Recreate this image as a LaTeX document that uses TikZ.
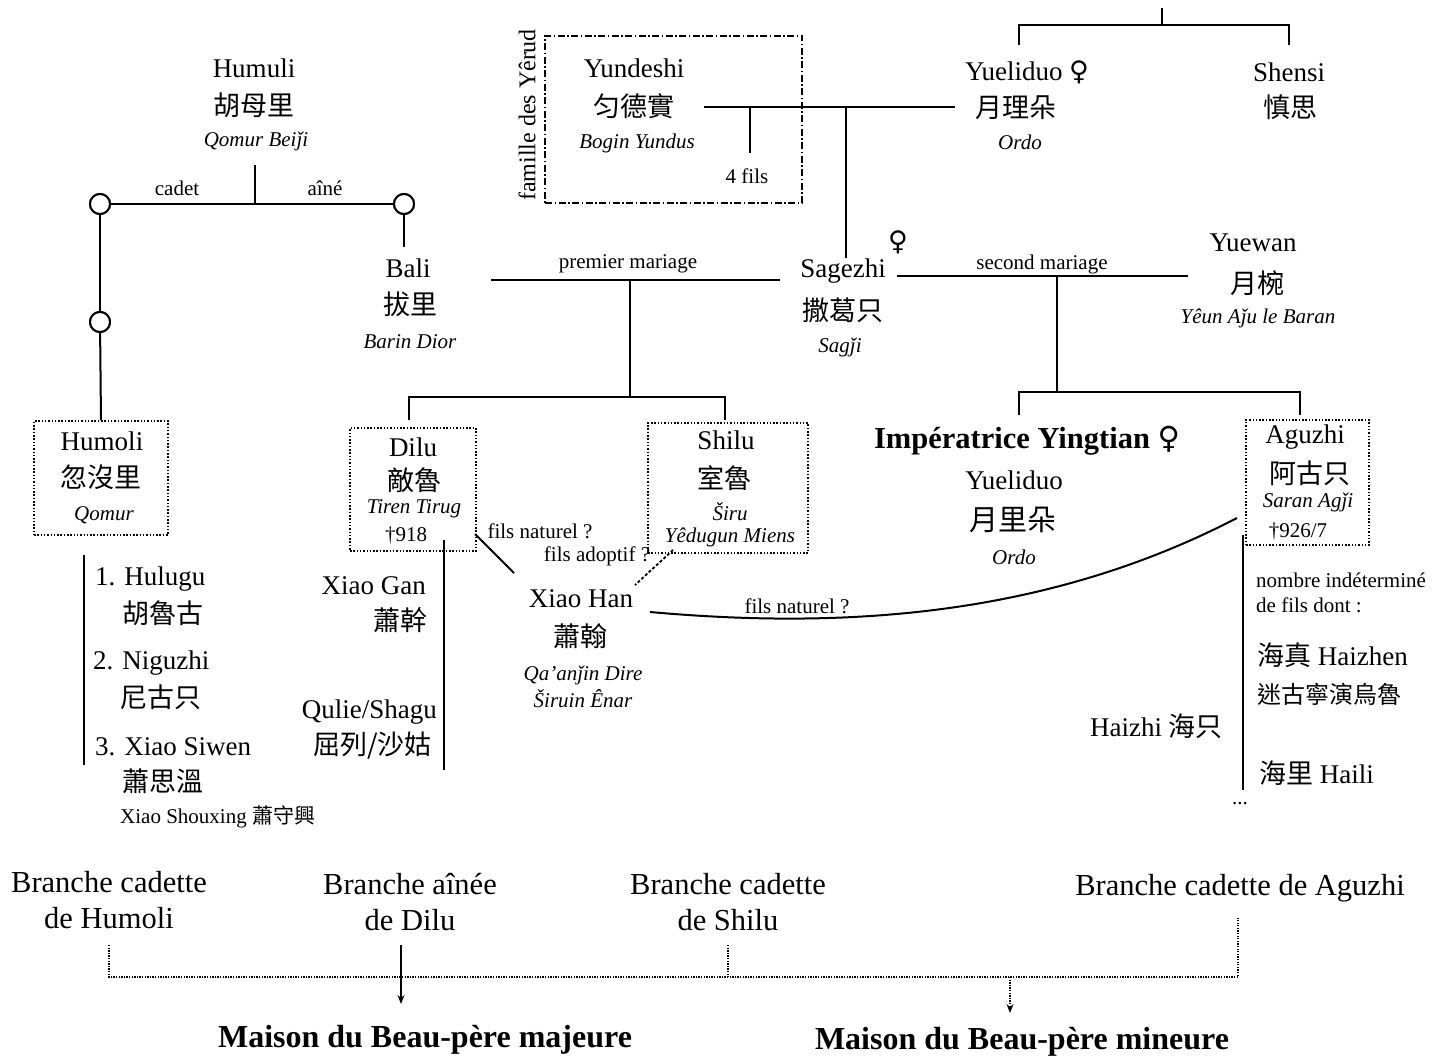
\documentclass[tikz,border=0pt]{standalone}
\usepackage{fontspec}
\setmainfont{Liberation Serif}
\newfontfamily\cjk{Noto Sans CJK TC}
\newfontfamily\symf{DejaVu Sans}
\usetikzlibrary{arrows.meta}
\newcommand\femsym{{\symf ♀}}
\tikzset{
 nm/.style={inner sep=0pt, font=\fontsize{27}{30}\selectfont},
 zh/.style={inner sep=0pt, font=\fontsize{27}{30}\selectfont\cjk},
 it/.style={inner sep=0pt, font=\fontsize{21}{25}\selectfont\itshape},
 lb/.style={inner sep=0pt, font=\fontsize{21}{25}\selectfont},
 br/.style={inner sep=0pt, font=\fontsize{30.5}{36}\selectfont, align=center},
 mb/.style={inner sep=0pt, font=\fontsize{32}{36}\selectfont\bfseries},
 ln/.style={line width=2pt},
 dotbox/.style={draw, line width=1.5pt, dash pattern=on 1.5pt off 1.8pt, inner sep=0pt},
 ddbox/.style={draw, line width=1.5pt, dash pattern=on 7pt off 2.5pt on 1.5pt off 2.5pt, inner sep=0pt},
 thindot/.style={line width=1.3pt, dash pattern=on 1.3pt off 1.3pt},
 ring/.style={circle, draw, line width=2pt, minimum size=20pt, inner sep=0pt, fill=white},
}
\begin{document}
\begin{tikzpicture}[x=1pt,y=-1pt]
\useasboundingbox (0,0) rectangle (1451,1059);
\fill[white] (0,0) rectangle (1451,1059);

% ---------- boxes ----------
\node[ddbox, minimum width=257pt, minimum height=167pt] (yundB) at (673.5,119.5) {};
\node[dotbox, minimum width=134pt, minimum height=114pt] (humoliB) at (101,478) {};
\node[dotbox, minimum width=126pt, minimum height=123pt] (diluB) at (413,489.5) {};
\node[dotbox, minimum width=160pt, minimum height=130pt] (shiluB) at (728,488) {};
\node[dotbox, minimum width=123pt, minimum height=125pt] (aguzhiB) at (1307.5,482.5) {};

% ---------- top right ----------
\coordinate (tr0) at (1162,8);
\coordinate (tr1) at (1162,25);
\coordinate (trL) at (1019,25);
\coordinate (trR) at (1289,25);
\coordinate (trLd) at (1019,45);
\coordinate (trRd) at (1289,45);
\draw[ln] (tr0) -- (tr1);
\draw[ln] (trLd) -- (trL) -- (trR) -- (trRd);
\node[nm] (yuel1) at (1027,72) {Yueliduo \femsym};
\node[zh] (yuel2) at (1016,108) {月理朵};
\node[it] (yuel3) at (1020,142) {Ordo};
\node[nm] (shen1) at (1289,72) {Shensi};
\node[zh] (shen2) at (1290,107) {慎思};

% ---------- Yundeshi ----------
\node[lb, font=\fontsize{24}{28}\selectfont, rotate=90] (fam) at (527,115) {famille des Yêrud};
\node[nm] (yund1) at (634,68) {Yundeshi};
\node[zh] (yund2) at (634,106) {匀德實};
\node[it] (yund3) at (637,143) {Bogin Yundus};
\node[lb] (fils4) at (747,176) {4 fils};
\coordinate (yA) at (704,107);
\coordinate (yB) at (955,107);
\coordinate (y4) at (750,107);
\coordinate (y4d) at (750,153);
\coordinate (yS) at (846,107);
\coordinate (ySd) at (846,258);
\draw[ln] (yA) -- (yB);
\draw[ln] (y4) -- (y4d);
\draw[ln] (yS) -- (ySd);

% ---------- Humuli ----------
\node[nm] (hum1) at (254,68) {Humuli};
\node[zh] (hum2) at (254,105) {胡母里};
\node[it] (hum3) at (256,141) {Qomur Beiǰi};
\coordinate (h0) at (255,165);
\coordinate (h1) at (255,204);
\node[ring] (ringL) at (100,204) {};
\node[ring] (ringR) at (404,204) {};
\node[ring] (ringM) at (100,322) {};
\draw[ln] (h0) -- (h1);
\draw[ln] (ringL) -- (ringR);
\draw[ln] (ringL) -- (ringM);
\draw[ln] (ringM) -- (humoliB.north);
\coordinate (baliT) at (404,247);
\draw[ln] (ringR) -- (baliT);
\node[ring] at (ringL) {};
\node[ring] at (ringR) {};
\node[ring] at (ringM) {};
\node[lb] (cadet) at (177,188) {cadet};
\node[lb] (aine) at (325,188) {aîné};

% ---------- Bali ----------
\node[nm] (bali1) at (408,268) {Bali};
\node[zh] (bali2) at (410,304) {拔里};
\node[it] (bali3) at (410,342) {Barin Dior};

% ---------- Sagezhi ----------
\node[nm] (sag1) at (843,271) {Sagezhi};
\node[nm] (sagf) at (898,242) {\femsym};
\node[zh] (sag2) at (843,310) {撒葛只};
\node[it] (sag3) at (840,347) {Sagǰi};

% premier mariage
\coordinate (pmL) at (491,280);
\coordinate (pmR) at (780,280);
\coordinate (pmM) at (630,280);
\coordinate (pmD) at (630,397);
\coordinate (pmA) at (409,397);
\coordinate (pmB) at (725,397);
\coordinate (pmAd) at (409,420);
\coordinate (pmBd) at (725,420);
\draw[ln] (pmL) -- (pmR);
\draw[ln] (pmM) -- (pmD);
\draw[ln] (pmAd) -- (pmA) -- (pmB) -- (pmBd);
\node[lb] (pmlab) at (628,264) {premier mariage};

% second mariage
\coordinate (smL) at (897,276);
\coordinate (smR) at (1188,276);
\coordinate (smM) at (1057,276);
\coordinate (smD) at (1057,392);
\coordinate (smA) at (1019,392);
\coordinate (smB) at (1300,392);
\coordinate (smAd) at (1019,415);
\coordinate (smBd) at (1300,415);
\draw[ln] (smL) -- (smR);
\draw[ln] (smM) -- (smD);
\draw[ln] (smAd) -- (smA) -- (smB) -- (smBd);
\node[lb] (smlab) at (1042,264) {second mariage};

% ---------- Yuewan ----------
\node[nm] (yw1) at (1253,243) {Yuewan};
\node[zh] (yw2) at (1257,283) {月椀};
\node[it] (yw3) at (1258,318) {Yêun Aǰu le Baran};

% ---------- Humoli ----------
\node[nm] (hmo1) at (102,441) {Humoli};
\node[zh] (hmo2) at (101,477) {忽沒里};
\node[it] (hmo3) at (104,515) {Qomur};

% ---------- Dilu ----------
\node[nm] (dil1) at (413,447) {Dilu};
\node[zh] (dil2) at (414,480) {敵魯};
\node[it] (dil3) at (414,509) {Tiren Tirug};
\node[lb] (dil4) at (406,535) {†918};

% ---------- Shilu ----------
\node[nm] (shi1) at (726,440) {Shilu};
\node[zh] (shi2) at (724,478) {室魯};
\node[it] (shi3) at (730,512) {Širu};
\node[it] (shi4) at (730,537) {Yêdugun Miens};

% ---------- Impératrice ----------
\node[inner sep=0pt, font=\fontsize{30.5}{34}\selectfont\bfseries] (imp1) at (1027,441) {Impératrice Yingtian \femsym};
\node[nm] (imp2) at (1014,480) {Yueliduo};
\node[zh, font=\fontsize{29}{32}\selectfont\cjk] (imp3) at (1013,520) {月里朵};
\node[it] (imp4) at (1014,557) {Ordo};

% ---------- Aguzhi ----------
\node[nm] (agu1) at (1305,437) {Aguzhi};
\node[zh] (agu2) at (1310,473) {阿古只};
\node[it] (agu3) at (1308,502) {Saran Agǰi};
\node[lb] (agu4) at (1298,531) {†926/7};

% ---------- Humoli descendants ----------
\coordinate (hlT) at (84,555);
\coordinate (hlB) at (84,765);
\draw[ln] (hlT) -- (hlB);
\node[nm, anchor=west] (hl1) at (95,579) {1. Hulugu};
\node[zh, anchor=west] (hl1z) at (122,613) {胡魯古};
\node[nm, anchor=west] (hl2) at (93,663) {2. Niguzhi};
\node[zh, anchor=west] (hl2z) at (120,697) {尼古只};
\node[nm, anchor=west] (hl3) at (95,747) {3. Xiao Siwen};
\node[zh, anchor=west] (hl3z) at (122,781) {蕭思溫};
\node[lb, anchor=west] (hl4) at (120,817) {Xiao Shouxing {\cjk 蕭守興}};

% ---------- Dilu descendants ----------
\coordinate (dlT) at (444,540);
\coordinate (dlB) at (444,770);
\draw[ln] (dlT) -- (dlB);
\node[nm, anchor=east] (xg1) at (426,586) {Xiao Gan};
\node[zh, anchor=east] (xg2) at (428,620) {蕭幹};
\node[nm, anchor=east] (ql1) at (437,712) {Qulie/Shagu};
\node[zh, anchor=east] (ql2) at (432,746) {屈列/沙姑};

% ---------- Xiao Han ----------
\node[nm] (xh1) at (581,599) {Xiao Han};
\node[zh] (xh2) at (580,636) {蕭翰};
\node[it] (xh3) at (583,675) {Qa'anǰin Dire};
\node[it] (xh4) at (583,699) {Širuin Ênar};
\coordinate (dgA) at (475,534);
\coordinate (dgB) at (514,573);
\draw[ln] (dgA) -- (dgB);
\coordinate (adA) at (673,550);
\coordinate (adB) at (635,585);
\draw[line width=1.8pt, dash pattern=on 3pt off 2pt] (adA) -- (adB);
\node[lb] (fn1) at (540,531) {fils naturel ?};
\node[lb] (fa1) at (597,556) {fils adoptif ?};
\coordinate (cvA) at (650,612);
\coordinate (cvB) at (1237,518);
\draw[ln] (cvA) .. controls (850,630) and (1050,615) .. (cvB);
\node[lb] (fn2) at (797,606) {fils naturel ?};

% ---------- Aguzhi descendants ----------
\coordinate (agT) at (1243,535);
\coordinate (agB) at (1243,790);
\draw[ln] (agT) -- (agB);
\node[lb, anchor=west] (ag1) at (1256,580) {nombre indéterminé};
\node[lb, anchor=west] (ag2) at (1256,605) {de fils dont :};
\node[nm, anchor=west] (ag3) at (1257,655) {{\cjk 海真} Haizhen};
\node[zh, anchor=west, font=\fontsize{24}{28}\selectfont\cjk] (ag4) at (1257,694) {迷古寧演烏魯};
\node[nm, anchor=west] (ag5) at (1259,773) {{\cjk 海里} Haili};
\node[lb] (ag6) at (1240,804) {...};
\node[nm, anchor=east] (hz) at (1223,726) {Haizhi {\cjk 海只}};

% ---------- bottom ----------
\node[br] (b1) at (109,900) {Branche cadette\\de Humoli};
\node[br] (b2) at (410,902) {Branche aînée\\de Dilu};
\node[br] (b3) at (728,902) {Branche cadette\\de Shilu};
\node[br] (b4) at (1240,888) {Branche cadette de Aguzhi};
\coordinate (d1) at (109,945);
\coordinate (d1b) at (109,977);
\coordinate (d4) at (1238,918);
\coordinate (d4b) at (1238,977);
\coordinate (d3) at (728,945);
\coordinate (d3b) at (728,977);
\draw[thindot] (d1) -- (d1b) -- (d4b) -- (d4);
\draw[thindot] (d3) -- (d3b);
\node[mb] (m1) at (425,1040) {Maison du Beau-père majeure};
\node[mb] (m2) at (1022,1042) {Maison du Beau-père mineure};
\coordinate (a1) at (401,945);
\coordinate (a1b) at (401,1004);
\draw[line width=1.5pt, -{Stealth[length=9pt,width=7pt]}] (a1) -- (a1b);
\coordinate (a2) at (1010,977);
\coordinate (a2b) at (1010,1013);
\draw[thindot, -{Stealth[length=9pt,width=7pt]}] (a2) -- (a2b);
\end{tikzpicture}
\end{document}
